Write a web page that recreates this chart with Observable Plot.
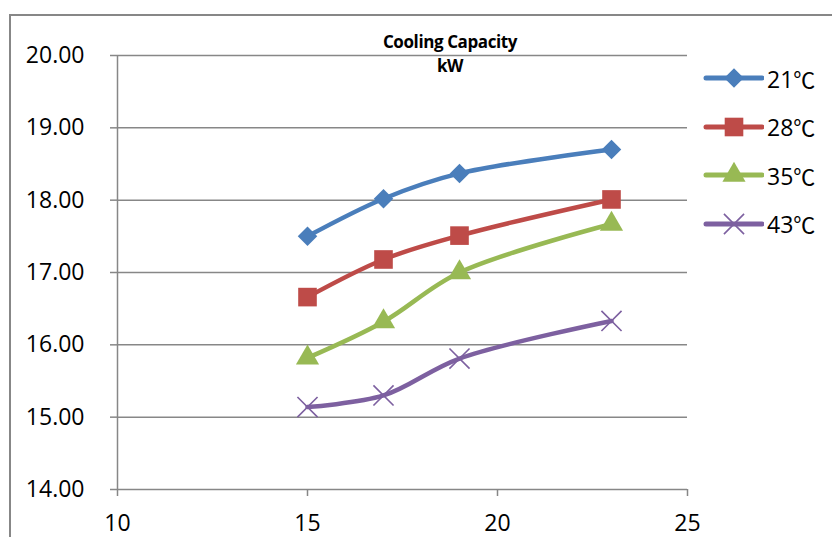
<!DOCTYPE html>
<html>
<head>
<meta charset="utf-8">
<script src="https://cdn.jsdelivr.net/npm/d3@7"></script>
<script src="https://cdn.jsdelivr.net/npm/@observablehq/plot@0.6"></script>
<style>
  html, body { margin: 0; padding: 0; background: #fff; }
  #wrap { position: relative; width: 832px; height: 537px; overflow: hidden; font-family: "Open Sans", "Noto Sans CJK SC", sans-serif; }
  #frame { position: absolute; left: 9px; top: 14px; width: 900px; height: 600px; border: 2px solid #878787; box-sizing: border-box; }
  #chart { position: absolute; left: 0; top: 0; }
  #title { position: absolute; left: 330px; width: 240px; top: 30px; text-align: center; font-weight: 700; font-size: 17px; line-height: 24px; letter-spacing: -0.4px; color: #000; }
  #legend { position: absolute; left: 700px; top: 54px; }
  .item { display: flex; align-items: center; height: 48.5px; }
  .item span.lab { font-size: 23px; margin-left: 3px; color: #000; font-family: "Open Sans", sans-serif; white-space: nowrap; }
  .item span.deg { font-family: "Noto Sans CJK SC", sans-serif; font-size: 22px; }
</style>
</head>
<body>
<div id="wrap">
  <div id="frame"></div>
  <div id="chart"></div>
  <div id="title">Cooling Capacity<br>kW</div>
  <div id="legend"></div>
</div>
<script>
// Data
const xValues = [15, 17, 19, 23];
const seriesNames = ["21℃", "28℃", "35℃", "43℃"];
const s21 = [17.50, 18.02, 18.37, 18.70];
const s28 = [16.66, 17.18, 17.51, 18.01];
const s35 = [15.82, 16.32, 17.00, 17.67];
const s43 = [15.14, 15.30, 15.81, 16.33];
const xTicks = [10, 15, 20, 25];
const yTicks = [14, 15, 16, 17, 18, 19, 20];

const colors = ["#4A7EBB", "#BE4B48", "#98B954", "#7D60A0"];
const symbols = ["diamond2", "square", "triangle", "times"];
const radii = [8.8, 10.5, 8.6, 9.2];

const seriesValues = [s21, s28, s35, s43];
const data = seriesValues.flatMap((vals, i) =>
  vals.map((v, j) => ({ series: seriesNames[i], x: xValues[j], y: v }))
);

const marks = [
  Plot.gridY(yTicks, { stroke: "#878787", strokeOpacity: 1, strokeWidth: 1.5 }),
  Plot.ruleX([10], { stroke: "#878787", strokeWidth: 1.5 }),
  Plot.axisY(yTicks, {
    tickSize: 7, tickPadding: 26, tickFormat: d3.format(".2f"),
    stroke: "#878787", strokeWidth: 1.5, fontSize: 23, fill: "#000", label: null
  }),
  Plot.axisX(xTicks, {
    tickSize: 7, tickPadding: 18, tickFormat: d => String(d),
    stroke: "#878787", strokeWidth: 1.5, fontSize: 23, fill: "#000", label: null
  }),
  Plot.line(data, {
    x: "x", y: "y", z: "series", stroke: "series",
    strokeWidth: 4.5, curve: "catmull-rom", strokeLinecap: "round", strokeLinejoin: "round"
  })
];
seriesNames.forEach((name, i) => {
  const sub = data.filter(d => d.series === name);
  if (symbols[i] === "times") {
    marks.push(Plot.dot(sub, { x: "x", y: "y", symbol: () => "times", r: radii[i], stroke: colors[i], strokeWidth: 1.6, fill: "none" }));
  } else {
    marks.push(Plot.dot(sub, { x: "x", y: "y", symbol: () => symbols[i], r: radii[i], fill: colors[i], stroke: "none" }));
  }
});

const chart = Plot.plot({
  width: 832,
  height: 537,
  marginLeft: 117,
  marginRight: 145,
  marginTop: 55,
  marginBottom: 48,
  style: { fontFamily: "'Open Sans', sans-serif", background: "transparent", overflow: "visible" },
  x: { domain: [10, 25], axis: null },
  y: { domain: [14, 20], axis: null },
  color: { domain: seriesNames, range: colors },
  symbol: { domain: symbols, range: symbols },
  marks
});
document.getElementById("chart").appendChild(chart);

// Legend
const legend = d3.select("#legend");
seriesNames.forEach((name, i) => {
  const item = legend.append("div").attr("class", "item");
  const svg = item.append("svg").attr("width", 64).attr("height", 30);
  svg.append("line").attr("x1", 6).attr("x2", 62).attr("y1", 15).attr("y2", 15)
    .attr("stroke", colors[i]).attr("stroke-width", 5).attr("stroke-linecap", "round");
  const symMap = { diamond2: d3.symbolDiamond2, square: d3.symbolSquare, triangle: d3.symbolTriangle, times: d3.symbolTimes };
  const size = radii[i] * radii[i] * Math.PI;
  const path = svg.append("path").attr("transform", "translate(34,15)")
    .attr("d", d3.symbol(symMap[symbols[i]], size)());
  if (symbols[i] === "times") path.attr("fill", "none").attr("stroke", colors[i]).attr("stroke-width", 1.6);
  else path.attr("fill", colors[i]);
  const lab = item.append("span").attr("class", "lab");
  const num = name.replace("℃", "");
  lab.append("tspan").text(num);
  lab.append("span").attr("class", "deg").text("℃");
});
</script>
</body>
</html>
